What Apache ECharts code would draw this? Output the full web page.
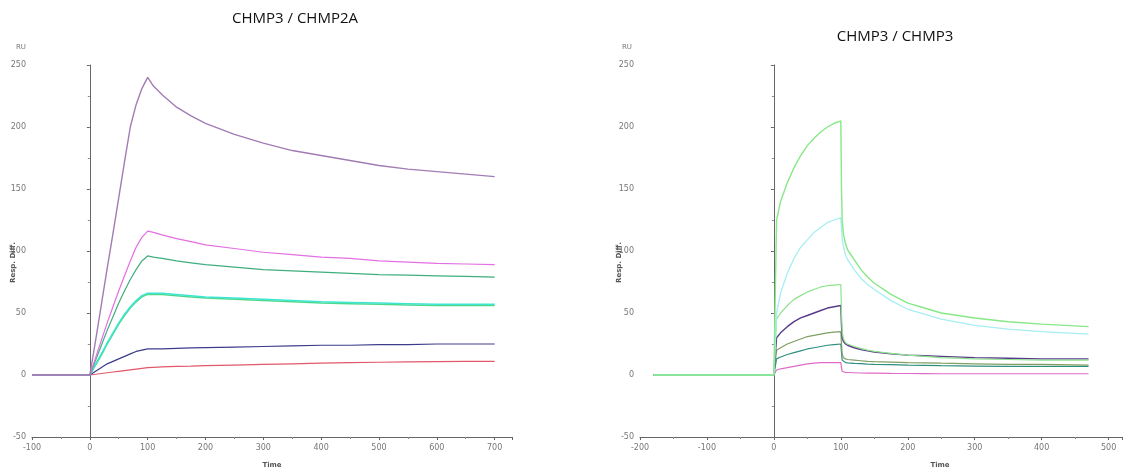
<!DOCTYPE html>
<html><head><meta charset="utf-8">
<script src="https://cdn.jsdelivr.net/npm/echarts@6/dist/echarts.min.js"></script>
<style>html,body{margin:0;padding:0;background:#fff}#c{width:1126px;height:470px}</style>
</head><body><div id="c"></div>
<script>
// ---- Left chart: CHMP3 / CHMP2A ----
const leftTitle = 'CHMP3 / CHMP2A';
const leftTime = [-100,-50,0,10,20,30,40,50,60,70,80,90,100,110,125,150,175,200,250,300,350,400,450,500,550,600,650,700];
const L1 = [0,0,0,28,57,86,114,143,172,200,218,231,240,233,226,216,209,203,194,187,181,177,173,169,166,164,162,160];
const L2 = [0,0,0,14,28,42,55,68,80,92,103,111,116,115,113,110,107.5,105,102,99,97,95,94,92,91,90,89.5,89];
const L3 = [0,0,0,12,24,36,47,58,68,77,85,92,96,95,94,92,90.5,89,87,85,84,83,82,81,80.5,80,79.5,79];
const L4 = [0,0,0,9,17,26,34,42,49,55,60,64,66,66,66,65,64,63,62,61,60,59,58.5,58,57.5,57,57,57];
const L4b = [0,0,0,8,16,25,33,41,48,54,59,63,65,65,65,64,63,62,61,60,59,58,57.5,57,56.5,56,56,56];
const L5 = [0,0,0,3,6,9,11,13,15,17,19,20,21,21,21,21.5,21.8,22,22.5,23,23.5,24,24,24.5,24.5,25,25,25];
const L6 = [0,0,0,0.6,1.2,1.8,2.4,3,3.6,4.2,4.8,5.4,6,6.2,6.5,7,7.2,7.5,8,8.5,9,9.5,10,10.3,10.6,10.8,11,11];

// ---- Right chart: CHMP3 / CHMP3 ----
const rightTitle = 'CHMP3 / CHMP3';
const rightTime = [-180,-100,0,4,10,20,30,40,50,60,70,80,90,100,101,102,104,107,110,120,130,140,150,175,200,225,250,300,350,400,470];
const R1 = [0,0,0,125,140,155,167,177,185,191,196,200,203,205,150,125,113,106,101,93,85,79,74,65,58,54,50,46,43,41,39];
const R2 = [0,0,0,50,66,82,94,103,109,115,119,123,125,127,118,110,103,97,93,85,78,73,69,60,53,49,45,40,37,35,33];
const R3 = [0,0,0,45,50,56,61,64,67,69,71,72,72.5,73,50,35,29,26,25,23,21.5,20,19,17.5,16,15,14,13,12.5,12,12];
const R4 = [0,0,0,30,34,39,43,46,48,50,52,54,55,56,40,30,27,25,24,22,20.5,19.5,18.5,17,16,15.5,15,14,13.5,13,13];
const R5 = [0,0,0,20,22,25,27,29,31,32,33,34,34.5,35,25,17,14,13,12.5,12,11.5,11,10.8,10.4,10,9.8,9.5,9,8.5,8.5,8];
const R6 = [0,0,0,13,14.5,16.5,18,19.5,21,22,23,24,24.5,25,18,12,10.5,10,9.8,9.4,9.1,8.8,8.6,8.3,8,7.8,7.5,7.2,7,7,7];
const R7 = [0,0,0,4,5,6,7,8,9,9.5,10,10,10,10,6,3,2.3,2,2,1.8,1.6,1.5,1.5,1.3,1.2,1.1,1,1,1,1,1];

const yTicks = {min:-50, max:250, interval:50};

const leftSeries = [
  {d:L6, c:'#e0586a', w:1.2},
  {d:L5, c:'#3c3c8c', w:1.2},
  {d:L4b, c:'#4fd88c', w:1.5},
  {d:L4, c:'#3ee6d2', w:1.5},
  {d:L3, c:'#3fae7f', w:1.2},
  {d:L2, c:'#e36fe3', w:1.2},
  {d:L1, c:'#a27cb3', w:1.4}
];
const rightSeries = [
  {d:R7, c:'#e06cc8', w:1.2},
  {d:R6, c:'#2f8f7f', w:1.2},
  {d:R5, c:'#7f9f62', w:1.2},
  {d:R4, c:'#5a3a8a', w:1.4},
  {d:R3, c:'#8ee28e', w:1.2},
  {d:R2, c:'#a6eef2', w:1.3},
  {d:R1, c:'#86e886', w:1.4}
];

const chart = echarts.init(document.getElementById('c'), null, {renderer:'canvas'});
const lbl = {fontSize:8, color:'#777', fontFamily:'DejaVu Sans'};

function mkX(idx, min, max) {
  return {type:'value', gridIndex:idx, min:min, max:max, interval:100,
    axisLine:{show:true, onZero:false, lineStyle:{color:'#666'}},
    axisTick:{show:true, length:3, lineStyle:{color:'#666'}},
    minorTick:{show:true, splitNumber:2, length:2, lineStyle:{color:'#888'}},
    splitLine:{show:false},
    axisLabel:Object.assign({margin:7, showMaxLabel:false}, lbl)};
}
function mkY(idx) {
  return {type:'value', gridIndex:idx, min:yTicks.min, max:yTicks.max, interval:yTicks.interval,
    axisLine:{show:true, lineStyle:{color:'#666'}},
    axisTick:{show:true, length:3, lineStyle:{color:'#666'}},
    minorTick:{show:true, splitNumber:2, length:2, lineStyle:{color:'#888'}},
    splitLine:{show:false},
    axisLabel:Object.assign({margin:6}, lbl)};
}

const series = [];
leftSeries.forEach(s => series.push({type:'line', xAxisIndex:0, yAxisIndex:0, showSymbol:false,
  smooth:false, lineStyle:{color:s.c, width:s.w}, itemStyle:{color:s.c},
  data: leftTime.map((t,i)=>[t, s.d[i]])}));
rightSeries.forEach(s => series.push({type:'line', xAxisIndex:1, yAxisIndex:1, showSymbol:false,
  smooth:false, lineStyle:{color:s.c, width:s.w}, itemStyle:{color:s.c},
  data: rightTime.map((t,i)=>[t, s.d[i]])}));

const smallBold = {fontSize:7, fontWeight:'bold', fill:'#555', fontFamily:'DejaVu Sans'};
const unit = {fontSize:7, fill:'#777', fontFamily:'DejaVu Sans', align:'center'};
chart.setOption({
  animation:false,
  backgroundColor:'#fff',
  title:[
    {text:leftTitle, left:290, top:6, textAlign:'center', textStyle:{fontSize:15, fontWeight:'normal', color:'#111', fontFamily:'Open Sans'}},
    {text:rightTitle, left:890, top:24, textAlign:'center', textStyle:{fontSize:15, fontWeight:'normal', color:'#111', fontFamily:'Open Sans'}}
  ],
  grid:[
    {left:32, top:65, width:480, height:372},
    {left:640, top:65, width:482, height:372}
  ],
  xAxis:[mkX(0,-100,730), mkX(1,-200,520)],
  yAxis:[mkY(0), mkY(1)],
  graphic:[
    {type:'text', x:21, y:44, style:Object.assign({text:'RU'}, unit)},
    {type:'text', x:627, y:44, style:Object.assign({text:'RU'}, unit)},
    {type:'text', x:10, y:283, rotation:Math.PI/2, style:Object.assign({text:'Resp. Diff.'}, smallBold)},
    {type:'text', x:616, y:283, rotation:Math.PI/2, style:Object.assign({text:'Resp. Diff.'}, smallBold)},
    {type:'text', x:272, y:462, style:Object.assign({text:'Time', align:'center'}, smallBold)},
    {type:'text', x:940, y:462, style:Object.assign({text:'Time', align:'center'}, smallBold)}
  ],
  series: series
});
</script></body></html>
